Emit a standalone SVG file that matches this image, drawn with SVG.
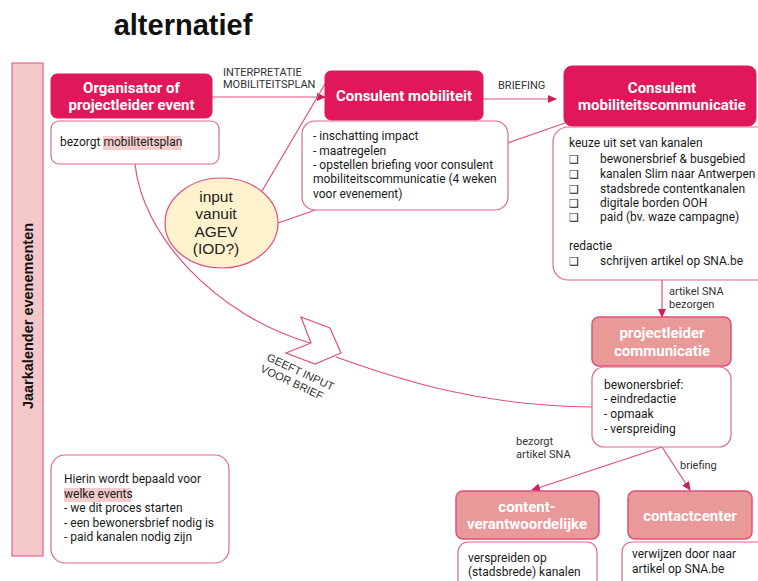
<svg xmlns="http://www.w3.org/2000/svg" width="758" height="581" viewBox="0 0 758 581">
<defs>
<marker id="ah" markerWidth="9" markerHeight="8" refX="8" refY="4" orient="auto" markerUnits="userSpaceOnUse">
<path d="M0,0 L9,4 L0,8 z" fill="#cc1f57"/>
</marker>
<style>
.hd{fill:#e0185a;stroke:#e0185a;stroke-width:1}
.sm{fill:#ea9999;stroke:#e0507a;stroke-width:1.5}
.tb{fill:#ffffff;stroke:#dc6b8c;stroke-width:1.2}
.ht{font-family:Roboto,"Liberation Sans",sans-serif;font-weight:bold;font-size:15px;fill:#ffffff;text-anchor:middle}
.bt{font-family:Roboto,"Liberation Sans",sans-serif;font-size:12px;fill:#1a1a1a}
.lb{font-family:Roboto,"Liberation Sans",sans-serif;font-size:11px;fill:#333333}
.ck{font-family:"DejaVu Sans",sans-serif;font-size:11px;fill:#1a1a1a}
.cn{fill:none;stroke:#e0507a;stroke-width:1.2}
.hl{fill:#f4cccc}
</style>
</defs>

<text x="183" y="35" font-family="Liberation Sans, Arial, sans-serif" font-weight="bold" font-size="29" text-anchor="middle" fill="#111111">alternatief</text>

<g id="jaarkalender">
<rect x="12" y="63" width="31" height="493" fill="#f4c7cb" stroke="#e06688" stroke-width="1.2"/>
<text transform="translate(33,316) rotate(-90)" font-family="Liberation Sans, Arial, sans-serif" font-weight="bold" font-size="14.5" text-anchor="middle" fill="#111111">Jaarkalender evenementen</text>
</g>

<g id="connectors">
<path class="cn" d="M212,97 L325,97" marker-end="url(#ah)"/>
<path class="cn" d="M483,99 L556,99" marker-end="url(#ah)"/>
<path class="cn" d="M262,191 L325,84"/>
<path class="cn" d="M278,223 L565,123"/>
<path class="cn" d="M662,280 L662,317" marker-end="url(#ah)"/>
<path class="cn" d="M662,447 L532,490" marker-end="url(#ah)"/>
<path class="cn" d="M662,447 L690,490" marker-end="url(#ah)"/>
<path class="cn" d="M135,164 C142,235 215,315 310,343"/>
<path class="cn" d="M336,357 C400,380 480,406 592,407"/>
<polygon points="301,317 330,328 341,353 315,364 286,353 311,343" fill="#ffffff" stroke="#e0507a" stroke-width="1.2"/>
<text class="lb" x="223" y="76">INTERPRETATIE</text>
<text class="lb" x="223" y="88">MOBILITEITSPLAN</text>
<text class="lb" x="498" y="89" font-size="11.5">BRIEFING</text>
<text class="lb" x="669" y="295">artikel SNA</text>
<text class="lb" x="669" y="308">bezorgen</text>
<text class="lb" x="516" y="445">bezorgt</text>
<text class="lb" x="516" y="458">artikel SNA</text>
<text class="lb" x="680" y="469">briefing</text>
<text transform="translate(266,360) rotate(25)" font-family="Liberation Sans, Arial, sans-serif" font-size="11" fill="#333333"><tspan x="0" y="0">GEEFT INPUT</tspan><tspan x="-1" y="13">VOOR BRIEF</tspan></text>
</g>

<g id="organisator">
<rect class="hd" x="51" y="74" width="161" height="44" rx="6"/>
<text class="ht" x="131.5" y="93">Organisator of</text>
<text class="ht" x="131.5" y="110">projectleider event</text>
<rect class="tb" x="51" y="121" width="168" height="43" rx="8"/>
<rect class="hl" x="103" y="136" width="78" height="14"/>
<text class="bt" x="60" y="146">bezorgt mobiliteitsplan</text>
</g>

<g id="consulent-mobiliteit">
<rect class="hd" x="325" y="71" width="158" height="49" rx="6"/>
<text class="ht" x="404" y="101">Consulent mobiliteit</text>
<rect class="tb" x="302" y="121" width="206" height="89" rx="13"/>
<text class="bt" x="313" y="140">- inschatting impact</text>
<text class="bt" x="313" y="155">- maatregelen</text>
<text class="bt" x="313" y="169">- opstellen briefing voor consulent</text>
<text class="bt" x="313" y="183">mobiliteitscommunicatie (4 weken</text>
<text class="bt" x="313" y="198">voor evenement)</text>
</g>

<g id="agev">
<ellipse cx="221.5" cy="223" rx="56.5" ry="45" fill="#fff2cc" stroke="#e0507a" stroke-width="1.2"/>
<g font-family="Liberation Sans, Arial, sans-serif" font-size="15.5" fill="#222222" text-anchor="middle">
<text x="216" y="202">input</text>
<text x="216" y="219">vanuit</text>
<text x="216" y="237">AGEV</text>
<text x="216" y="254">(IOD?)</text>
</g>
</g>

<g id="consulent-communicatie">
<rect class="hd" x="564" y="66" width="192" height="60" rx="8"/>
<text class="ht" x="662" y="93">Consulent</text>
<text class="ht" x="662" y="110">mobiliteitscommunicatie</text>
<rect class="tb" x="553" y="127" width="225" height="153" rx="15"/>
<text class="bt" x="569" y="147">keuze uit set van kanalen</text>
<text class="ck" x="569" y="163">❑</text>
<text class="bt" x="600" y="163">bewonersbrief &amp; busgebied</text>
<text class="ck" x="569" y="178">❑</text>
<text class="bt" x="600" y="178">kanalen Slim naar Antwerpen</text>
<text class="ck" x="569" y="193">❑</text>
<text class="bt" x="600" y="193">stadsbrede contentkanalen</text>
<text class="ck" x="569" y="207">❑</text>
<text class="bt" x="600" y="207">digitale borden OOH</text>
<text class="ck" x="569" y="221">❑</text>
<text class="bt" x="600" y="221">paid (bv. waze campagne)</text>
<text class="bt" x="569" y="250">redactie</text>
<text class="ck" x="569" y="265">❑</text>
<text class="bt" x="600" y="265">schrijven artikel op SNA.be</text>
</g>

<g id="projectleider-communicatie">
<rect class="sm" x="592" y="317" width="139" height="49" rx="7"/>
<text class="ht" x="662" y="338">projectleider</text>
<text class="ht" x="662" y="356">communicatie</text>
<rect class="tb" x="592" y="367" width="139" height="80" rx="12"/>
<text class="bt" x="604" y="389">bewonersbrief:</text>
<text class="bt" x="604" y="403">- eindredactie</text>
<text class="bt" x="604" y="418">- opmaak</text>
<text class="bt" x="604" y="433">- verspreiding</text>
</g>

<g id="content-verantwoordelijke">
<rect class="sm" x="456" y="491" width="143" height="48" rx="7"/>
<text class="ht" x="527" y="512">content-</text>
<text class="ht" x="527" y="529">verantwoordelijke</text>
<rect class="tb" x="458" y="542" width="139" height="55" rx="10"/>
<text class="bt" x="468" y="562">verspreiden op</text>
<text class="bt" x="468" y="576">(stadsbrede) kanalen</text>
</g>

<g id="contactcenter">
<rect class="sm" x="628" y="491" width="124" height="48" rx="7"/>
<text class="ht" x="690" y="521">contactcenter</text>
<rect class="tb" x="622" y="542" width="150" height="55" rx="10"/>
<text class="bt" x="632" y="558">verwijzen door naar</text>
<text class="bt" x="632" y="573">artikel op SNA.be</text>
</g>

<g id="hierin">
<rect class="tb" x="51" y="455" width="178" height="108" rx="14"/>
<rect class="hl" x="64" y="488" width="67" height="14"/>
<text class="bt" x="64" y="483">Hierin wordt bepaald voor</text>
<text class="bt" x="64" y="498">welke events</text>
<text class="bt" x="64" y="512">- we dit proces starten</text>
<text class="bt" x="64" y="527">- een bewonersbrief nodig is</text>
<text class="bt" x="64" y="541">- paid kanalen nodig zijn</text>
</g>
</svg>
